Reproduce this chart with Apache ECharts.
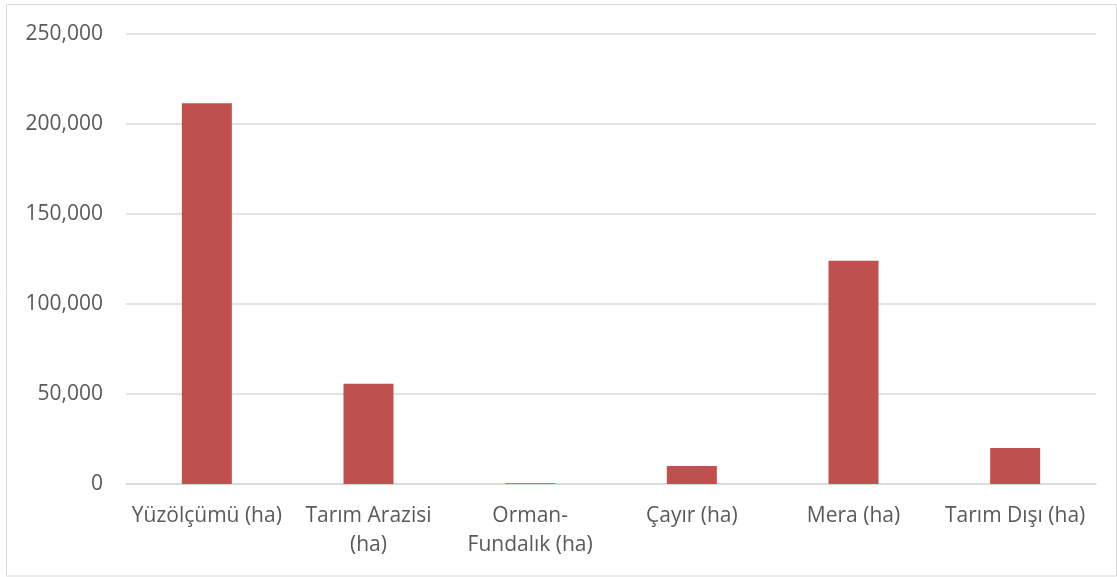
<!DOCTYPE html>
<html>
<head>
<meta charset="utf-8">
<script src="https://cdn.jsdelivr.net/npm/echarts@6/dist/echarts.min.js"></script>
<style>
html,body{margin:0;padding:0;background:#fff;}
#chart{width:1117px;height:577px;}
</style>
</head>
<body>
<div id="chart"></div>
<script>
var categories = ['Yüzölçümü (ha)', 'Tarım Arazisi\n(ha)', 'Orman-\nFundalık (ha)', 'Çayır (ha)', 'Mera (ha)', 'Tarım Dışı (ha)'];
var values = [211500, 55700, 400, 10000, 124000, 20000];
var yTicks = { min: 0, max: 250000, interval: 50000 };

var chart = echarts.init(document.getElementById('chart'), null, { renderer: 'canvas' });
chart.setOption({
  animation: false,
  backgroundColor: '#ffffff',
  graphic: [{
    type: 'rect',
    shape: { x: 6.5, y: 4.5, width: 1110, height: 571.5 },
    style: { fill: 'none', stroke: '#d9d9d9', lineWidth: 1 },
    silent: true
  }],
  grid: { left: 126, right: 21, top: 34, bottom: 93, containLabel: false },
  xAxis: {
    type: 'category',
    data: categories,
    axisLine: { show: true, lineStyle: { color: '#d9d9d9', width: 1.5 } },
    axisTick: { show: false },
    axisLabel: {
      interval: 0,
      margin: 18,
      color: '#595959',
      fontFamily: 'Open Sans',
      fontSize: 21,
      lineHeight: 29,
      align: 'center'
    }
  },
  yAxis: {
    type: 'value',
    min: yTicks.min,
    max: yTicks.max,
    interval: yTicks.interval,
    axisLine: { show: false },
    axisTick: { show: false },
    splitLine: { lineStyle: { color: '#d9d9d9', width: 1.5 } },
    axisLabel: {
      margin: 23,
      color: '#595959',
      fontFamily: 'Open Sans',
      fontSize: 21,
      formatter: function (v) { return v.toLocaleString('en-US'); }
    }
  },
  series: [{
    type: 'bar',
    data: values,
    barWidth: 50,
    itemStyle: { color: '#c0504d' }
  }]
});
</script>
</body>
</html>
